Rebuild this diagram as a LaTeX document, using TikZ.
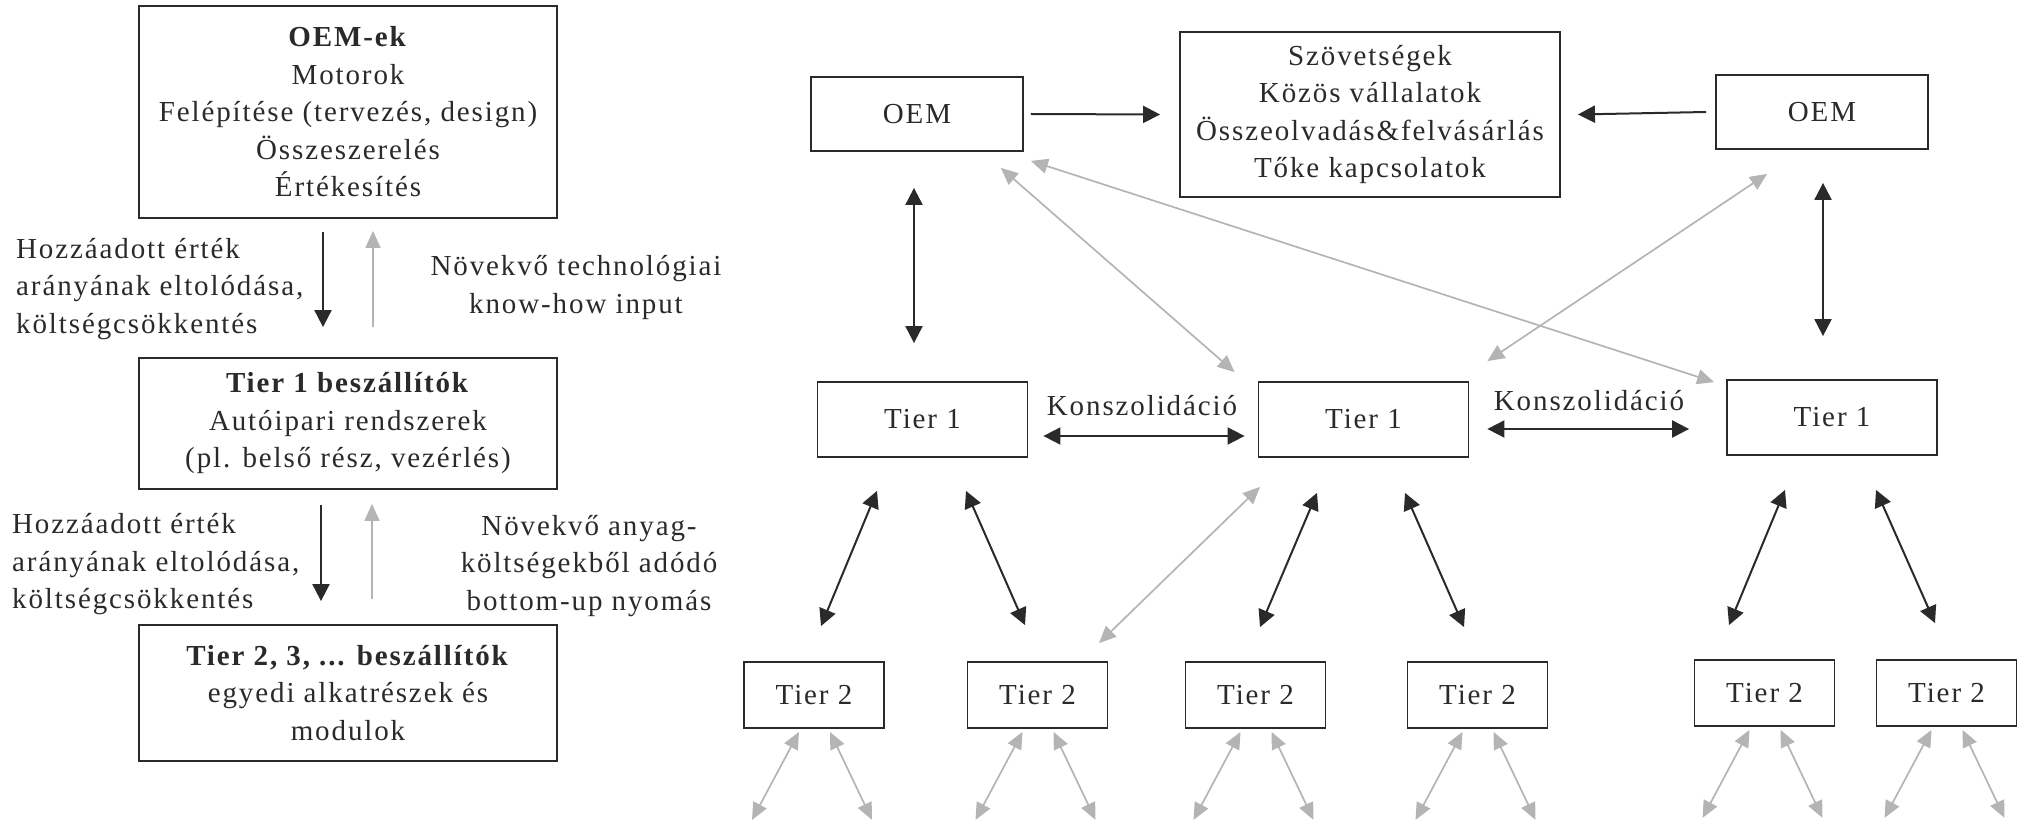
\documentclass[tikz,border=0pt]{standalone}
\usepackage{fontspec}
\setmainfont{Liberation Serif}[LetterSpace=6.5]
\usetikzlibrary{arrows.meta}
\definecolor{ChainInk}{RGB}{42,42,42}
\definecolor{ChainGrey}{RGB}{180,180,180}

\begin{document}
\begin{tikzpicture}[x=1pt,y=-1pt,
    every node/.style={font=\fontsize{29}{37.5}\selectfont,text=ChainInk},
    box/.style={draw=ChainInk,line width=1.8pt,fill=white,align=center,inner sep=0pt},
    oembox/.style={box,minimum width=212pt,minimum height=74pt},
    tierbox/.style={box,minimum width=210pt,minimum height=75pt},
    subbox/.style={box,minimum width=140pt,minimum height=66pt},
    note/.style={align=center,inner sep=0pt},
    arr/.style={-{Triangle[length=17pt,width=17pt]},ChainInk,line width=2pt},
    darr/.style={{Triangle[length=17pt,width=17pt]}-{Triangle[length=17pt,width=17pt]},ChainInk,line width=2pt},
    garr/.style={-{Triangle[length=17pt,width=15pt]},ChainGrey,line width=1.7pt},
    dgarr/.style={{Triangle[length=17pt,width=15pt]}-{Triangle[length=17pt,width=15pt]},ChainGrey,line width=1.7pt}]
    \useasboundingbox (0,0) rectangle (2024,826);

    % left column: the chain of suppliers
    \node[box,minimum width=418pt,minimum height=212pt] (oemek) at (348,112)
        {\textbf{OEM-ek}\\Motorok\\Felépítése (tervezés, design)\\Összeszerelés\\Értékesítés};
    \node[box,minimum width=418pt,minimum height=131pt] (t1sup) at (348,423.5)
        {\textbf{Tier 1 beszállítók}\\Autóipari rendszerek\\(pl. belső rész, vezérlés)};
    \node[box,minimum width=418pt,minimum height=136pt] (t2sup) at (348,693)
        {\textbf{Tier 2, 3, ... beszállítók}\\egyedi alkatrészek és\\modulok};
    \node[note,anchor=west,align=left] (valA) at (16,289)
        {Hozzáadott érték\\arányának eltolódása,\\költségcsökkentés};
    \node[note] (techA) at (576,287.5) {Növekvő technológiai\\know-how input};
    \node[note,anchor=west,align=left] (valB) at (12,564.5)
        {Hozzáadott érték\\arányának eltolódása,\\költségcsökkentés};
    \node[note] (techB) at (589,566) {Növekvő anyag-\\költségekből adódó\\bottom-up nyomás};
    \draw[arr] ([shift={(-25,13)}]oemek.south) -- ([shift={(-25,-30)}]t1sup.north);
    \draw[garr] ([shift={(25,-30)}]t1sup.north) -- ([shift={(25,12)}]oemek.south);
    \draw[arr] ([shift={(-27,15)}]t1sup.south) -- ([shift={(-27,-23)}]t2sup.north);
    \draw[garr] ([shift={(24,-25)}]t2sup.north) -- ([shift={(24,14)}]t1sup.south);

    % right part: the network
    \node[oembox] (oemL) at (917,114) {OEM};
    \node[box,minimum width=380pt,minimum height=165pt] (szov) at (1370,114.5)
        {Szövetségek\\Közös vállalatok\\Összeolvadás\&felvásárlás\\Tőke kapcsolatok};
    \node[oembox] (oemR) at (1822,112) {OEM};
    \node[tierbox] (t1L) at (922.5,419.5) {Tier 1};
    \node[tierbox] (t1M) at (1363.5,419.5) {Tier 1};
    \node[tierbox] (t1R) at (1832,417.5) {Tier 1};
    \node[note,anchor=base] (konA) at (1142,415) {Konszolidáció};
    \node[note,anchor=base] (konB) at (1589,410) {Konszolidáció};
    \node[subbox] (t2a) at (814,695) {Tier 2};
    \node[subbox] (t2b) at (1037.5,695) {Tier 2};
    \node[subbox] (t2c) at (1255.5,695) {Tier 2};
    \node[subbox] (t2d) at (1477.5,695) {Tier 2};
    \node[subbox] (t2e) at (1764.5,693) {Tier 2};
    \node[subbox] (t2f) at (1946.5,693) {Tier 2};

    \draw[arr] ([xshift=7pt]oemL.east) -- ([xshift=-19pt]szov.west);
    \draw[arr] ([xshift=-9pt]oemR.west) -- ([xshift=17pt]szov.east);
    \draw[darr] ([shift={(-3,36)}]oemL.south) -- ([shift={(-8.5,-38)}]t1L.north);
    \draw[darr] ([shift={(1,33)}]oemR.south) -- ([shift={(-9,-43)}]t1R.north);
    \draw[dgarr] ([shift={(-23,16)}]oemL.south east) -- ([shift={(-23,-9)}]t1M.north west);
    \draw[dgarr] ([shift={(7,9)}]oemL.south east) -- ([shift={(-12,3)}]t1R.north west);
    \draw[dgarr] ([shift={(52,24)}]oemR.south west) -- ([shift={(18,-20)}]t1M.north east);
    \draw[darr] ([shift={(15,16.5)}]t1L.east) -- ([shift={(-13,16.5)}]t1M.west);
    \draw[darr] ([shift={(18,9.5)}]t1M.east) -- ([shift={(-37,11.5)}]t1R.west);

    % Tier 1 -> Tier 2
    \draw[darr] ([shift={(-45.5,33)}]t1L.south) -- ([shift={(7,-35)}]t2a.north);
    \draw[darr] ([shift={(43.5,33)}]t1L.south) -- ([shift={(-12.5,-36)}]t2b.north);
    \draw[darr] ([shift={(-46.5,35)}]t1M.south) -- ([shift={(4.5,-34)}]t2c.north);
    \draw[darr] ([shift={(41.5,35)}]t1M.south) -- ([shift={(-13.5,-34)}]t2d.north);
    \draw[darr] ([shift={(-47,34)}]t1R.south) -- ([shift={(-35.5,-34)}]t2e.north);
    \draw[darr] ([shift={(44,34)}]t1R.south) -- ([shift={(-11.5,-36)}]t2f.north);
    \draw[dgarr] ([shift={(-103.5,29)}]t1M.south) -- ([shift={(61.5,-18)}]t2b.north);

    % below Tier 2
    \draw[dgarr] ([shift={(-15,3)}]t2a.south) -- ([shift={(-62,91)}]t2a.south);
    \draw[dgarr] ([shift={(16,3)}]t2a.south) -- ([shift={(58,91)}]t2a.south);
    \draw[dgarr] ([shift={(-15,3)}]t2b.south) -- ([shift={(-62,91)}]t2b.south);
    \draw[dgarr] ([shift={(16,3)}]t2b.south) -- ([shift={(58,91)}]t2b.south);
    \draw[dgarr] ([shift={(-15,3)}]t2c.south) -- ([shift={(-62,91)}]t2c.south);
    \draw[dgarr] ([shift={(16,3)}]t2c.south) -- ([shift={(58,91)}]t2c.south);
    \draw[dgarr] ([shift={(-15,3)}]t2d.south) -- ([shift={(-62,91)}]t2d.south);
    \draw[dgarr] ([shift={(16,3)}]t2d.south) -- ([shift={(58,91)}]t2d.south);
    \draw[dgarr] ([shift={(-15,3)}]t2e.south) -- ([shift={(-62,91)}]t2e.south);
    \draw[dgarr] ([shift={(16,3)}]t2e.south) -- ([shift={(58,91)}]t2e.south);
    \draw[dgarr] ([shift={(-15,3)}]t2f.south) -- ([shift={(-62,91)}]t2f.south);
    \draw[dgarr] ([shift={(16,3)}]t2f.south) -- ([shift={(58,91)}]t2f.south);
\end{tikzpicture}
\end{document}
